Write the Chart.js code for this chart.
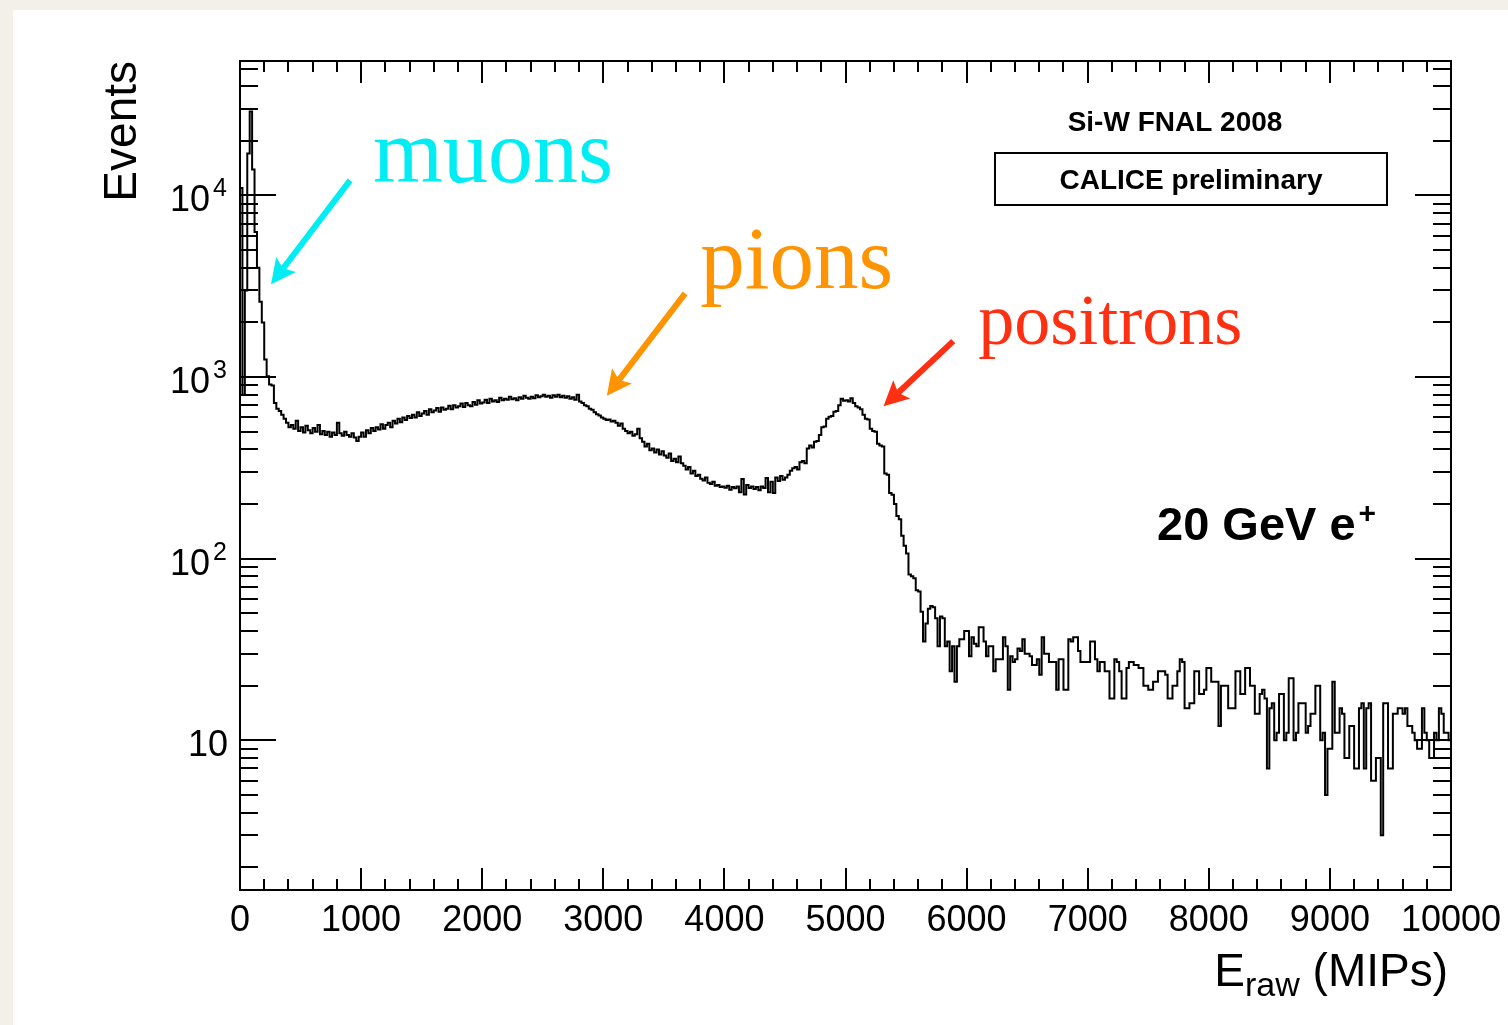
<!DOCTYPE html>
<html>
<head>
<meta charset="utf-8">
<title>Si-W FNAL 2008 – raw energy</title>
<script src="https://cdn.jsdelivr.net/npm/chart.js@4.4.1/dist/chart.umd.min.js"></script>
<style>
  html, body { margin: 0; padding: 0; background: #f3f0ea; }
  #sheet { position: absolute; left: 13px; top: 10px; right: 0; bottom: 0; width: 1495px; height: 1015px; background: #ffffff; }
  #wrap { position: absolute; left: 0; top: 0; width: 1508px; height: 1025px; }
  canvas { display: block; }
</style>
</head>
<body>
<div id="sheet"></div>
<div id="wrap"><canvas id="c" width="1508" height="1025"></canvas></div>
<script>
// Histogram binning (MIPs)
const X_MIN = 0;
const X_MAX = 10000;
const BIN_WIDTH = 20;

// Events per 20-MIP bin, 0 … 10000 MIPs (500 bins)
const counts = [
  11000, 800, 3000, 17000, 29000, 13900, 6300, 4000, 2600, 2000, 1250, 1010, 910, 900, 720, 670, 650, 620, 590, 560,
  530, 545, 520, 575, 505, 530, 495, 540, 510, 490, 525, 500, 545, 485, 505, 480, 500, 470, 495, 480,
  560, 490, 475, 500, 480, 470, 490, 465, 445, 470, 495, 470, 510, 490, 525, 505, 530, 515, 550, 520,
  545, 560, 530, 575, 555, 590, 565, 600, 580, 610, 595, 620, 600, 640, 610, 630, 650, 620, 665, 640,
  655, 675, 645, 680, 660, 670, 695, 665, 700, 680, 690, 715, 685, 720, 700, 690, 730, 705, 745, 715,
  725, 750, 720, 760, 735, 745, 730, 770, 745, 760, 750, 780, 755, 765, 745, 775, 760, 790, 770, 760,
  780, 765, 795, 775, 785, 800, 780, 790, 770, 795, 780, 800, 775, 790, 770, 785, 760, 775, 750, 800,
  735, 720, 700, 690, 670, 660, 640, 625, 615, 600, 590, 580, 585, 570, 575, 560, 540, 555, 520, 505,
  490, 500, 475, 485, 520, 460, 440, 415, 430, 395, 405, 385, 400, 375, 390, 370, 360, 380, 345, 355,
  340, 365, 335, 325, 310, 320, 295, 305, 285, 290, 276, 270, 280, 262, 258, 265, 252, 255, 248, 250,
  246, 252, 240, 248, 244, 250, 232, 275, 226, 255, 245, 250, 242, 248, 238, 250, 245, 278, 232, 265,
  230, 280, 268, 285, 272, 280, 290, 305, 315, 320, 310, 340, 345, 335, 405, 420, 410, 440, 445, 480,
  530, 535, 590, 605, 610, 645, 650, 700, 760, 740, 745, 735, 765, 720, 690, 680, 665, 620, 590, 585,
  520, 505, 500, 430, 420, 415, 295, 290, 230, 225, 200, 172, 165, 134, 118, 107, 82, 80, 78, 67,
  66, 51, 35, 44, 53, 55, 54, 47, 33, 48, 47, 33, 35, 24, 33, 21, 33, 36, 36, 40,
  40, 29, 37, 34, 33, 42, 42, 35, 29, 33, 33, 24, 28, 28, 28, 37, 33, 19, 29, 27,
  28, 32, 31, 36, 30, 30, 29, 26, 26, 28, 23, 37, 30, 30, 27, 27, 27, 19, 28, 28,
  19, 19, 36, 35, 37, 37, 31, 27, 27, 27, 27, 35, 35, 28, 24, 27, 27, 24, 24, 17,
  17, 28, 27, 24, 17, 17, 25, 27, 27, 26, 26, 25, 25, 20, 20, 19, 19, 21, 21, 24,
  24, 24, 23, 17, 17, 20, 20, 24, 28, 27, 15, 15, 16, 16, 24, 24, 18, 18, 19, 25,
  25, 21, 21, 21, 12, 20, 20, 20, 15, 15, 15, 24, 24, 18, 18, 25, 25, 20, 20, 14,
  14, 18, 19, 17, 7, 15, 16, 10, 11, 18, 18, 10, 11, 22, 22, 10, 11, 16, 16, 16,
  11, 12, 14, 14, 20, 20, 10, 11, 5, 9, 9, 21, 11, 11, 15, 14, 8, 8, 12, 12,
  7, 7, 15, 16, 7, 15, 16, 6, 6, 8, 8, 3, 16, 16, 7, 7, 14, 14, 15, 15,
  14, 15, 12, 12, 11, 10, 9, 9, 15, 11, 10, 8, 8, 11, 10, 15, 14, 11, 11, 10
];

// Axis ranges and tick labels
const Y_MIN = 1.5;
const Y_MAX = 55000;
const xTickValues = [0, 1000, 2000, 3000, 4000, 5000, 6000, 7000, 8000, 9000, 10000];
const X_MINOR_STEP = 200;
const yDecadeExponents = [1, 2, 3, 4];

// Labelled features: arrow tail / tip and text anchor, in (MIPs, events)
const features = [
  { name: 'muons',     color: '#00eef3', size: 90, text: [1099, 11900], tail: [909, 12100],  tip: [256, 3240] },
  { name: 'pions',     color: '#ff9300', size: 89, text: [3800, 3080],  tail: [3676, 2890],  tip: [3029, 789] },
  { name: 'positrons', color: '#ff2f12', size: 72, text: [6096, 1517],  tail: [5890, 1578],  tip: [5314, 690] }
];

// Step outline: one point per left bin edge plus the closing edge
const points = counts.map((c, i) => ({ x: X_MIN + i * BIN_WIDTH, y: c }));
points.push({ x: X_MIN + counts.length * BIN_WIDTH, y: counts[counts.length - 1] });

const SANS = '"Liberation Sans", Arial, Helvetica, sans-serif';
const SERIF = '"Liberation Serif", "Times New Roman", serif';

// ROOT-style frame: box, inward ticks on all four sides, labels and titles
const rootAxes = {
  id: 'rootAxes',
  afterDatasetsDraw(chart) {
    const { ctx, chartArea: a, scales: { x, y } } = chart;
    ctx.save();
    ctx.strokeStyle = '#000';
    ctx.fillStyle = '#000';
    ctx.lineWidth = 2;
    ctx.strokeRect(a.left, a.top, a.right - a.left, a.bottom - a.top);

    ctx.beginPath();
    for (let v = X_MIN; v <= X_MAX; v += X_MINOR_STEP) {
      const px = Math.round(x.getPixelForValue(v));
      const len = v % 1000 === 0 ? 22 : 11;
      ctx.moveTo(px, a.bottom); ctx.lineTo(px, a.bottom - len);
      ctx.moveTo(px, a.top); ctx.lineTo(px, a.top + len);
    }
    for (let d = 0; d <= 4; d++) {
      for (let k = 1; k <= 9; k++) {
        const v = k * Math.pow(10, d);
        if (v < Y_MIN || v > Y_MAX) continue;
        const py = Math.round(y.getPixelForValue(v));
        const len = k === 1 ? 36 : 18;
        ctx.moveTo(a.left, py); ctx.lineTo(a.left + len, py);
        ctx.moveTo(a.right, py); ctx.lineTo(a.right - len, py);
      }
    }
    ctx.stroke();

    // x tick labels
    ctx.font = '36px ' + SANS;
    ctx.textAlign = 'center';
    ctx.textBaseline = 'alphabetic';
    xTickValues.forEach(v => ctx.fillText(String(v), x.getPixelForValue(v), a.bottom + 41));

    // y tick labels: 10, 10^2, 10^3, 10^4
    const right = a.left - 12;
    yDecadeExponents.forEach(e => {
      const py = y.getPixelForValue(Math.pow(10, e));
      ctx.textAlign = 'right';
      if (e === 1) {
        ctx.font = '36px ' + SANS;
        ctx.fillText('10', right, py + 16);
      } else {
        ctx.font = '25px ' + SANS;
        const sup = String(e);
        const w = ctx.measureText(sup).width;
        ctx.fillText(sup, right - 1, py + 1);
        ctx.font = '36px ' + SANS;
        ctx.fillText('10', right - w - 4, py + 16);
      }
    });

    // x title: E_raw (MIPs), right-aligned to the frame
    ctx.textAlign = 'left';
    const big = '46px ' + SANS, small = '34px ' + SANS;
    ctx.font = big; const wE = ctx.measureText('E').width; const wT = ctx.measureText(' (MIPs)').width;
    ctx.font = small; const wR = ctx.measureText('raw').width;
    let tx = a.right - 3 - (wE + wR + wT);
    const base = a.bottom + 96;
    ctx.font = big; ctx.fillText('E', tx, base); tx += wE;
    ctx.font = small; ctx.fillText('raw', tx, base + 10); tx += wR;
    ctx.font = big; ctx.fillText(' (MIPs)', tx, base);

    // y title, rotated, aligned to the top of the frame
    ctx.save();
    ctx.translate(136, a.top);
    ctx.rotate(-Math.PI / 2);
    ctx.textAlign = 'right';
    ctx.font = '46px ' + SANS;
    ctx.fillText('Events', 0, 0);
    ctx.restore();

    ctx.restore();
  }
};

// Run labels, beam label and arrows pointing at the three populations
const labels = {
  id: 'labels',
  afterDraw(chart) {
    const { ctx, scales: { x, y } } = chart;
    const P = (pt) => [x.getPixelForValue(pt[0]), y.getPixelForValue(pt[1])];
    ctx.save();
    ctx.fillStyle = '#000';
    ctx.textBaseline = 'alphabetic';

    ctx.font = 'bold 28px ' + SANS;
    ctx.textAlign = 'center';
    ctx.fillText('Si-W FNAL 2008', 1175, 131);
    ctx.lineWidth = 2;
    ctx.strokeStyle = '#000';
    ctx.strokeRect(995, 153, 392, 52);
    ctx.fillText('CALICE preliminary', 1191, 189);

    ctx.textAlign = 'left';
    ctx.font = 'bold 47px ' + SANS;
    const main = '20 GeV e';
    ctx.fillText(main, 1157, 540);
    const mw = ctx.measureText(main).width;
    ctx.font = 'bold 30px ' + SANS;
    ctx.fillText('+', 1157 + mw + 3, 523);

    features.forEach(f => {
      const [x0, y0] = P(f.tail);
      const [x1, y1] = P(f.tip);
      const ang = Math.atan2(y1 - y0, x1 - x0);
      const c = Math.cos(ang), s = Math.sin(ang);
      const L = 25, W = 12.5, notch = 5;
      ctx.strokeStyle = f.color;
      ctx.fillStyle = f.color;
      ctx.lineWidth = 6;
      ctx.lineCap = 'butt';
      ctx.beginPath();
      ctx.moveTo(x0, y0);
      ctx.lineTo(x1 - (L - notch) * c, y1 - (L - notch) * s);
      ctx.stroke();
      const bx = x1 - L * c, by = y1 - L * s;
      ctx.beginPath();
      ctx.moveTo(x1, y1);
      ctx.lineTo(bx - W * s, by + W * c);
      ctx.lineTo(x1 - (L - notch) * c, y1 - (L - notch) * s);
      ctx.lineTo(bx + W * s, by - W * c);
      ctx.closePath();
      ctx.fill();

      const [tx, ty] = P(f.text);
      ctx.font = f.size + 'px ' + SERIF;
      ctx.textAlign = 'left';
      ctx.fillText(f.name, tx, ty);
    });
    ctx.restore();
  }
};

new Chart(document.getElementById('c'), {
  type: 'line',
  data: {
    datasets: [{
      label: 'Events',
      data: points,
      stepped: true,
      borderColor: '#000',
      borderWidth: 2,
      borderJoinStyle: 'miter',
      pointRadius: 0,
      fill: false,
      tension: 0
    }]
  },
  options: {
    responsive: false,
    devicePixelRatio: 1,
    animation: false,
    events: [],
    layout: { padding: { left: 240, top: 61, right: 57, bottom: 135 } },
    plugins: { legend: { display: false }, tooltip: { enabled: false }, title: { display: false } },
    scales: {
      x: { type: 'linear', min: X_MIN, max: X_MAX, display: false },
      y: { type: 'logarithmic', min: Y_MIN, max: Y_MAX, display: false }
    }
  },
  plugins: [rootAxes, labels]
});
</script>
</body>
</html>
